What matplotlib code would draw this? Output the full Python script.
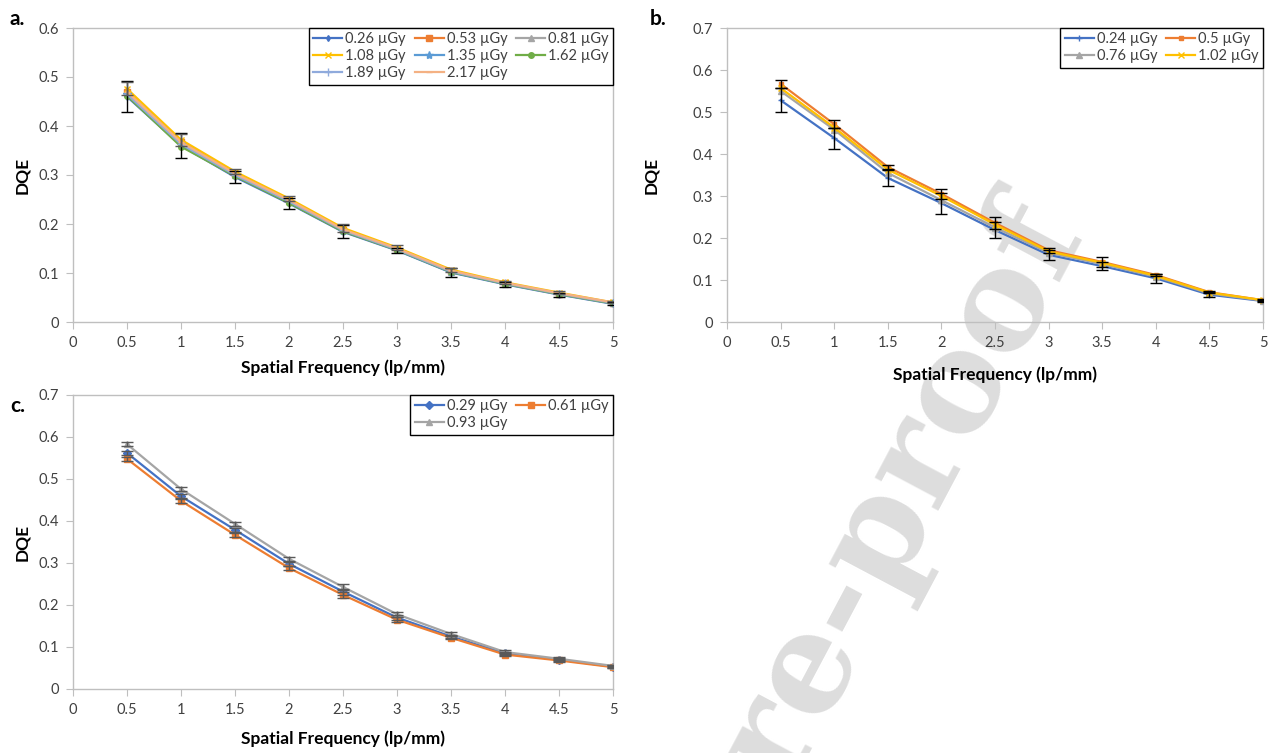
"""DQE vs spatial frequency, three detector panels (a, b, c)."""

import matplotlib

matplotlib.use("Agg")
import matplotlib.pyplot as plt
from matplotlib.ticker import FormatStrFormatter, MultipleLocator

plt.rcParams["font.family"] = ["Lato", "DejaVu Sans"]

freq = [0.5, 1.0, 1.5, 2.0, 2.5, 3.0, 3.5, 4.0, 4.5, 5.0]

# panel a
doses_a = ["0.26 µGy", "0.53 µGy", "0.81 µGy", "1.08 µGy",
           "1.35 µGy", "1.62 µGy", "1.89 µGy", "2.17 µGy"]
dqe_a_026 = [0.460, 0.360, 0.296, 0.242, 0.184, 0.146, 0.101, 0.077, 0.056, 0.037]
dqe_a_053 = [0.470, 0.368, 0.303, 0.248, 0.188, 0.149, 0.104, 0.079, 0.058, 0.039]
dqe_a_081 = [0.468, 0.366, 0.301, 0.246, 0.187, 0.148, 0.103, 0.078, 0.057, 0.038]
dqe_a_108 = [0.476, 0.372, 0.307, 0.252, 0.192, 0.152, 0.107, 0.081, 0.060, 0.040]
dqe_a_135 = [0.466, 0.364, 0.300, 0.245, 0.186, 0.147, 0.102, 0.078, 0.057, 0.038]
dqe_a_162 = [0.462, 0.358, 0.298, 0.243, 0.185, 0.147, 0.102, 0.078, 0.057, 0.038]
dqe_a_189 = [0.465, 0.363, 0.300, 0.246, 0.187, 0.148, 0.103, 0.079, 0.058, 0.039]
dqe_a_217 = [0.470, 0.367, 0.303, 0.249, 0.189, 0.150, 0.105, 0.080, 0.059, 0.040]
err_a_026 = [0.032, 0.026, 0.012, 0.012, 0.013, 0.006, 0.009, 0.005, 0.004, 0.003]
err_a_108 = [0.013, 0.012, 0.005, 0.005, 0.008, 0.005, 0.004, 0.003, 0.003, 0.002]

# panel b
doses_b = ["0.24 µGy", "0.5 µGy", "0.76 µGy", "1.02 µGy"]
dqe_b_024 = [0.528, 0.438, 0.343, 0.283, 0.219, 0.160, 0.133, 0.104, 0.065, 0.050]
dqe_b_050 = [0.567, 0.471, 0.369, 0.305, 0.236, 0.171, 0.143, 0.112, 0.071, 0.052]
dqe_b_076 = [0.550, 0.458, 0.355, 0.290, 0.225, 0.165, 0.138, 0.108, 0.068, 0.051]
dqe_b_102 = [0.557, 0.463, 0.363, 0.300, 0.232, 0.168, 0.141, 0.110, 0.070, 0.052]
err_b_024 = [0.028, 0.025, 0.020, 0.025, 0.018, 0.012, 0.010, 0.010, 0.006, 0.003]
err_b_050 = [0.010, 0.010, 0.005, 0.012, 0.015, 0.006, 0.012, 0.003, 0.003, 0.002]

# panel c
doses_c = ["0.29 µGy", "0.61 µGy", "0.93 µGy"]
dqe_c_029 = [0.562, 0.459, 0.379, 0.298, 0.232, 0.170, 0.125, 0.085, 0.070, 0.053]
dqe_c_061 = [0.548, 0.448, 0.367, 0.288, 0.224, 0.165, 0.122, 0.082, 0.068, 0.052]
dqe_c_093 = [0.583, 0.476, 0.393, 0.310, 0.243, 0.178, 0.131, 0.088, 0.072, 0.055]
err_c = [0.005, 0.005, 0.005, 0.005, 0.007, 0.006, 0.004, 0.004, 0.004, 0.003]

BLUE, ORANGE, GRAY, YELLOW = "#4472C4", "#ED7D31", "#A5A5A5", "#FFC000"
LBLUE, GREEN, LAVENDER, SALMON = "#5B9BD5", "#70AD47", "#8FAADC", "#F4B183"
FRAME = "#BFBFBF"
TEXT = "#404040"

W, H = 1282, 753
fig = plt.figure(figsize=(W / 100, H / 100), dpi=100)

# watermark behind everything
fig.text(1092 / W, 1 - 242 / H, "Journal Pre-proof", rotation=62,
         rotation_mode="anchor", ha="right", va="baseline",
         fontsize=100, fontweight="bold", family="DejaVu Serif",
         color="#DDDDDD", zorder=-5)


def make_axes(left, top, right, bottom, ymax, xpad=7, ypad=6):
    ax = fig.add_axes([left / W, 1 - bottom / H, (right - left) / W, (bottom - top) / H])
    ax.set_zorder(1)
    ax.set_facecolor("none")
    ax.set_xlim(0, 5)
    ax.set_ylim(0, ymax)
    ax.xaxis.set_major_locator(MultipleLocator(0.5))
    ax.yaxis.set_major_locator(MultipleLocator(0.1))
    ax.xaxis.set_major_formatter(FormatStrFormatter("%g"))
    ax.yaxis.set_major_formatter(
        plt.FuncFormatter(lambda v, _: "0" if abs(v) < 1e-9 else f"{v:.1f}"))
    for sp in ax.spines.values():
        sp.set_color(FRAME)
        sp.set_linewidth(1.0)
    ax.tick_params(direction="out", length=5, color=FRAME, labelcolor=TEXT,
                   labelsize=10.5, pad=5)
    ax.set_xlabel("Spatial Frequency (lp/mm)", fontsize=12.5, fontweight="bold",
                  color="black", labelpad=xpad)
    ax.set_ylabel("DQE", fontsize=12.5, fontweight="bold", color="black", labelpad=ypad)
    return ax


def series(ax, y, color, marker, label, ms=4, err=None, ecolor="black"):
    ax.plot(freq, y, color=color, marker=marker, markersize=ms, linewidth=1.6,
            label=label, zorder=3)
    if err is not None:
        ax.errorbar(freq, y, yerr=err, fmt="none", ecolor=ecolor, elinewidth=1.0,
                    capsize=4, capthick=1.0, zorder=4)


def legend(ax, order, ncol):
    h, l = ax.get_legend_handles_labels()
    leg = ax.legend([h[i] for i in order], [l[i] for i in order], ncol=ncol,
                    loc="upper right", borderaxespad=0, fontsize=10.5,
                    handlelength=2.0, handletextpad=0.2, columnspacing=0.6,
                    labelspacing=0.2, borderpad=0.3, fancybox=False,
                    framealpha=1)
    leg.get_frame().set_edgecolor("black")
    leg.get_frame().set_linewidth(1.0)
    for t in leg.get_texts():
        t.set_color(TEXT)


# a.
ax_a = make_axes(73, 28, 613, 322, 0.6)
series(ax_a, dqe_a_026, BLUE, "d", doses_a[0], ms=3, err=err_a_026)
series(ax_a, dqe_a_053, ORANGE, "s", doses_a[1])
series(ax_a, dqe_a_081, GRAY, "^", doses_a[2])
series(ax_a, dqe_a_108, YELLOW, "x", doses_a[3], err=err_a_108, ecolor="#595959")
series(ax_a, dqe_a_135, LBLUE, "*", doses_a[4], ms=6)
series(ax_a, dqe_a_162, GREEN, "o", doses_a[5])
series(ax_a, dqe_a_189, LAVENDER, "+", doses_a[6], ms=6)
series(ax_a, dqe_a_217, SALMON, "_", doses_a[7], ms=5)
legend(ax_a, [0, 3, 6, 1, 4, 7, 2, 5], 3)

# b.
ax_b = make_axes(727, 28, 1263, 322, 0.7, xpad=12, ypad=24)
series(ax_b, dqe_b_024, BLUE, "+", doses_b[0], ms=4, err=err_b_024)
series(ax_b, dqe_b_050, ORANGE, "s", doses_b[1], ms=3, err=err_b_050)
series(ax_b, dqe_b_076, GRAY, "^", doses_b[2])
series(ax_b, dqe_b_102, YELLOW, "x", doses_b[3])
legend(ax_b, [0, 2, 1, 3], 2)

# c.
ax_c = make_axes(73, 395, 613, 689, 0.7, xpad=10)
series(ax_c, dqe_c_029, BLUE, "D", doses_c[0], ms=4, err=err_c, ecolor="#595959")
series(ax_c, dqe_c_061, ORANGE, "s", doses_c[1], ms=5, err=err_c, ecolor="#595959")
series(ax_c, dqe_c_093, GRAY, "^", doses_c[2], ms=5, err=err_c, ecolor="#595959")
legend(ax_c, [0, 2, 1], 2)

for txt, x, y in [("a.", 10, 25), ("b.", 650, 25), ("c.", 10, 412)]:
    fig.text(x / W, 1 - y / H, txt, fontsize=15, fontweight="bold")

fig.savefig("out.png", dpi=100)
